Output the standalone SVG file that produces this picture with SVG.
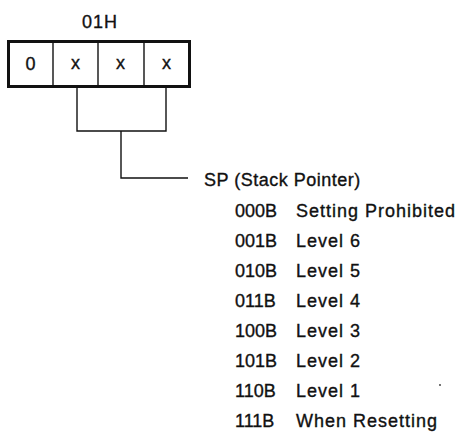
<svg xmlns="http://www.w3.org/2000/svg" width="471" height="448" viewBox="0 0 471 448">
<style>
text{font-family:"Liberation Sans",Arial,sans-serif;fill:#111;stroke:#111;stroke-width:0.35;font-size:18px;letter-spacing:1px}
.c{text-anchor:middle}
.k{letter-spacing:0px}
.h{letter-spacing:0.5px}
.ln{fill:none;stroke:#111;stroke-width:1.4}
</style>
<rect width="471" height="448" fill="#fff"/>
<g id="register">
<text class="c" x="100" y="28">01H</text>
<rect x="8.5" y="41.5" width="181" height="45" fill="#fff" stroke="#111" stroke-width="3"/>
<line class="ln" x1="53" y1="42" x2="53" y2="86"/>
<line class="ln" x1="98" y1="42" x2="98" y2="86"/>
<line class="ln" x1="144" y1="42" x2="144" y2="86"/>
<text class="c" x="31" y="70">0</text>
<text class="c" x="76" y="69">x</text>
<text class="c" x="121" y="69">x</text>
<text class="c" x="167" y="69">x</text>
</g>
<g id="connectors">
<polyline class="ln" points="77,87 77,131 166,131 166,87"/>
<polyline class="ln" points="121,131 121,178 188,178"/>
</g>
<g id="sp-table">
<text class="h" x="204" y="186">SP (Stack Pointer)</text>
<text class="k" x="235" y="217">000B</text><text x="296" y="217">Setting Prohibited</text>
<text class="k" x="235" y="247">001B</text><text x="296" y="247">Level 6</text>
<text class="k" x="235" y="277">010B</text><text x="296" y="277">Level 5</text>
<text class="k" x="235" y="307">011B</text><text x="296" y="307">Level 4</text>
<text class="k" x="235" y="337">100B</text><text x="296" y="337">Level 3</text>
<text class="k" x="235" y="367">101B</text><text x="296" y="367">Level 2</text>
<text class="k" x="235" y="397">110B</text><text x="296" y="397">Level 1</text>
<text class="k" x="235" y="427">111B</text><text x="296" y="427">When Resetting</text>
</g>
<circle cx="440" cy="385" r="0.9" fill="#333"/>
</svg>
